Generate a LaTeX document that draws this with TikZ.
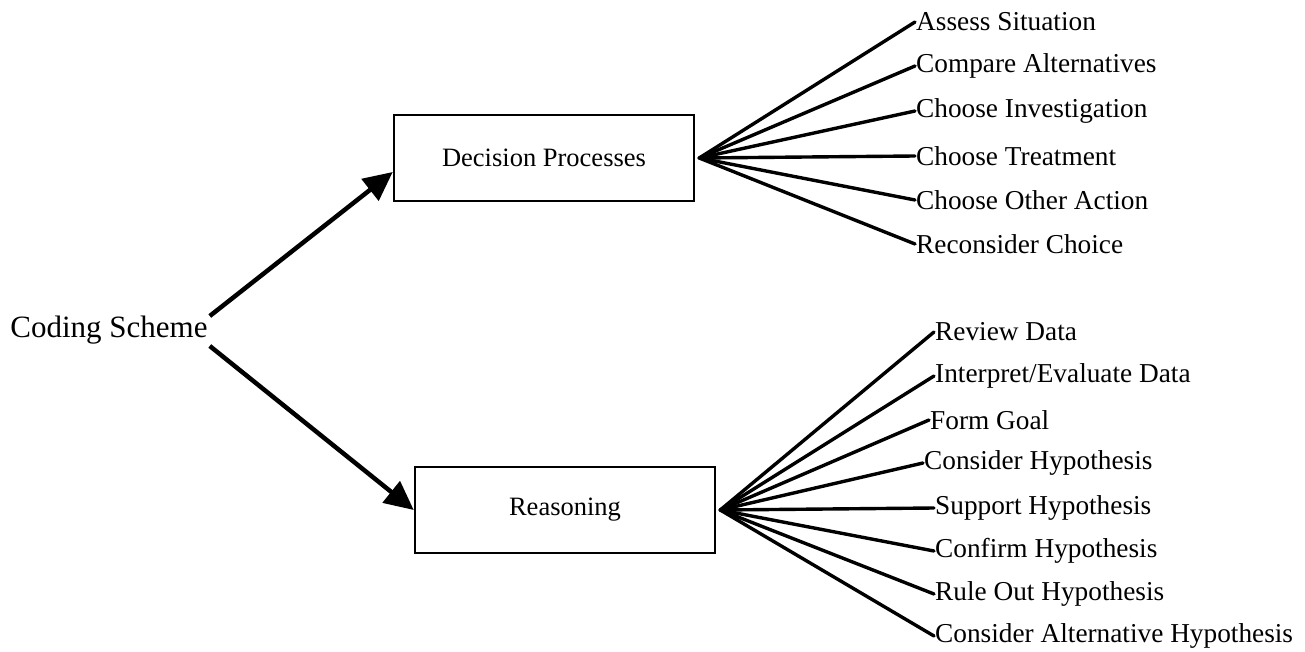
\documentclass[tikz,border=0pt]{standalone}
\usepackage{fontspec}
\setmainfont{Liberation Serif}
\usetikzlibrary{arrows.meta}
\begin{document}
\begin{tikzpicture}[x=1pt,y=-1pt,
  box/.style={draw,line width=2.5pt,minimum width=300pt,minimum height=86pt,inner sep=0pt,font=\fontsize{26.5}{30}\selectfont},
  leaf/.style={anchor=west,inner sep=1pt,font=\fontsize{27.3}{30}\selectfont},
  fan/.style={line width=3.4pt,line cap=round},
  arr/.style={line width=4.5pt,-{Triangle[length=29pt,width=27pt]}}]
\useasboundingbox (0,0) rectangle (1305,652);
\node[inner sep=0pt,font=\fontsize{31}{36}\selectfont] (cs) at (109,330) {Coding Scheme};
\node[box] (dp) at (544,158) {Decision Processes};
\node[box] (rs) at (565,510) {Reasoning};
\draw[arr] ([xshift=2pt,yshift=14pt]cs.east) -- ([yshift=-14pt]dp.west);
\draw[arr] ([xshift=2pt,yshift=-16pt]cs.east) -- (rs.west);
\coordinate (f1) at ([xshift=4pt]dp.east);
\coordinate (f2) at ([xshift=4pt]rs.east);
\node[leaf] (a1) at (915,22) {Assess Situation};
\node[leaf] (a2) at (915,66) {Compare Alternatives};
\node[leaf] (a3) at (915,111) {Choose Investigation};
\node[leaf] (a4) at (915,156) {Choose Treatment};
\node[leaf] (a5) at (915,200) {Choose Other Action};
\node[leaf] (a6) at (915,244) {Reconsider Choice};
\foreach \n in {a1,a2,a3,a4,a5,a6} \draw[fan] (f1) -- (\n.west);
\node[leaf] (b1) at (934,332) {Review Data};
\node[leaf] (b2) at (934,376) {Interpret/Evaluate Data};
\node[leaf] (b3) at (929,420) {Form Goal};
\node[leaf] (b4) at (923,463) {Consider Hypothesis};
\node[leaf] (b5) at (934,508) {Support Hypothesis};
\node[leaf] (b6) at (934,551) {Confirm Hypothesis};
\node[leaf] (b7) at (934,594) {Rule Out Hypothesis};
\node[leaf] (b8) at (934,636) {Consider Alternative Hypothesis};
\foreach \n in {b1,b2,b3,b4,b5,b6,b7,b8} \draw[fan] (f2) -- (\n.west);
\end{tikzpicture}
\end{document}
